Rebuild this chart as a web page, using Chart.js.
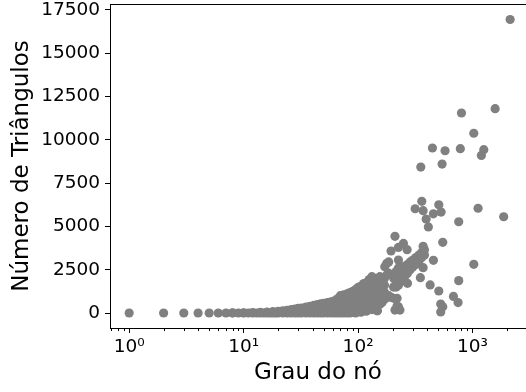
<!DOCTYPE html>
<html lang="pt">
<head>
  <meta charset="UTF-8" />
  <title>Grau x Triângulos</title>
  <script src="https://cdn.jsdelivr.net/npm/chart.js"></script>
  <style>
    html, body { margin: 0; padding: 0; background: #fff; }
    #wrap { width: 526px; height: 392px; }
  </style>
</head>
<body>
  <div id="wrap"><canvas id="grafico"></canvas></div>

  <script>
    // grau de cada nó e número de triângulos (linha a linha)
    const grau = [
      1, 2, 3, 4, 5, 6, 7, 8, 8, 9, 10, 10, 11, 12, 12, 13, 14, 14, 15, 16, 16, 17, 18, 18, 19, 20, 20,
      22, 22, 24, 24, 26, 26, 28, 28, 30, 30,
      32, 32, 32, 35, 35, 35, 38, 38, 38, 41, 41, 41, 44, 44, 44, 47, 47, 47,
      50, 50, 50, 54, 54, 54, 58, 58, 58, 62, 62, 62, 66, 66, 66,
      70, 70, 70, 70, 75, 75, 75, 75, 80, 80, 80, 80, 85, 85, 85, 85,
      90, 90, 90, 90, 95, 95, 95, 95, 95, 100, 100, 100, 100, 100,
      106, 106, 106, 106, 106, 112, 112, 112, 112, 112, 118, 118, 118, 118, 118,
      125, 125, 125, 125, 125, 132, 132, 132, 132, 132, 132, 140, 140, 140, 140, 140,
      147, 147, 147, 147, 147, 155, 155, 155, 155, 155, 162, 162, 162, 162,
      171, 178, 170, 170, 170, 170, 178, 178, 185, 185, 185, 194, 195, 205, 205, 204,
      210, 210, 215, 215, 215, 219, 219, 225, 225, 225, 225, 225, 225,
      235, 235, 235, 232, 249, 249, 249, 260, 260, 270, 268, 270, 270,
      285, 285, 300, 300, 320, 320, 340, 340, 360, 360, 380, 380,
      2130, 1575, 800, 1025, 446, 575, 782, 1253, 1194, 353, 542,
      315, 360, 370, 393, 411, 455, 507, 531, 549, 757, 1117, 1870,
      1025, 370, 455, 370, 350, 426, 507, 757, 681, 747, 527, 549, 527, 147
    ];
    const triangulos = [
      0, 0, 0, 0, 0, 0, 0, 0, 10, 0, 0, 15, 0, 0, 25, 0, 0, 40, 0, 0, 55, 0, 0, 75, 0, 0, 100,
      0, 130, 0, 160, 0, 190, 0, 230, 0, 270,
      0, 150, 290, 0, 170, 340, 0, 200, 390, 0, 220, 440, 0, 250, 480, 0, 270, 530,
      0, 280, 560, 0, 300, 600, 0, 320, 650, 0, 330, 700, 0, 380, 820,
      0, 350, 700, 1000, 0, 400, 750, 1050, 0, 400, 800, 1100, 0, 450, 850, 1180,
      50, 450, 850, 1250, 0, 400, 800, 1200, 1350, 100, 500, 900, 1300, 1480,
      50, 450, 850, 1250, 1550, 200, 600, 1000, 1400, 1700, 100, 500, 900, 1300, 1750,
      300, 700, 1100, 1500, 1930, 200, 600, 1000, 1400, 1950, 2100, 400, 800, 1200, 1600, 2000,
      130, 700, 1100, 1500, 1900, 500, 900, 1300, 1700, 2100, 600, 1000, 1400, 1800,
      2670, 2870, 800, 1200, 1600, 2000, 900, 2200, 1000, 2300, 2950, 3580, 900, 850, 2000, 1500,
      4430, 170, 1500, 1900, 2400, 850, 400, 1600, 2100, 2600, 3790, 3060, 360,
      1800, 2300, 2700, 170, 2000, 2500, 4020, 2200, 2700, 1715, 3655, 2300, 2800,
      2500, 2950, 2650, 3050, 2800, 3200, 3000, 3350, 3200, 3500, 3350, 3650,
      16950, 11800, 11550, 10380, 9530, 9370, 9490, 9430, 9100, 8430, 8600,
      6020, 6450, 5910, 5430, 4970, 5730, 6250, 5830, 4080, 5270, 6050, 5560,
      2810, 3850, 3040, 2620, 2040, 1620, 1270, 1870, 960, 600, 520, 360, 60, 130
    ];

    const ticksY = [0, 2500, 5000, 7500, 10000, 12500, 15000, 17500];
    const decadas = [1, 10, 100, 1000];

    const sup = { "0": "⁰", "1": "¹", "2": "²", "3": "³" };
    const ehDecada = (v) => Math.abs(Math.log10(v) - Math.round(Math.log10(v))) < 1e-9;

    const semPadding = (scale) => {
      scale.paddingLeft = 0;
      scale.paddingRight = 0;
      scale.paddingTop = 0;
      scale.paddingBottom = 0;
    };

    // moldura superior e ticks menores do eixo log
    const moldura = {
      id: "moldura",
      beforeDatasetsDraw(chart) {
        const { ctx, chartArea } = chart;
        const sx = chart.scales.x;
        ctx.save();
        ctx.strokeStyle = "#000";
        ctx.lineWidth = 1;
        ctx.beginPath();
        ctx.moveTo(chartArea.left, chartArea.top + 0.5);
        ctx.lineTo(chartArea.right, chartArea.top + 0.5);
        sx.ticks.forEach((t) => {
          if (ehDecada(t.value)) return;
          const px = Math.round(sx.getPixelForValue(t.value)) + 0.5;
          ctx.moveTo(px, chartArea.bottom);
          ctx.lineTo(px, chartArea.bottom + 3);
        });
        ctx.stroke();
        ctx.restore();
      }
    };

    new Chart(document.getElementById("grafico"), {
      type: "scatter",
      data: {
        datasets: [{
          data: grau.map((g, i) => ({ x: g, y: triangulos[i] })),
          backgroundColor: "#808080",
          borderWidth: 0,
          pointRadius: 4.6,
          pointHoverRadius: 4.6
        }]
      },
      options: {
        responsive: true,
        maintainAspectRatio: false,
        animation: false,
        layout: { autoPadding: false, padding: { top: 4, right: 0, left: 0, bottom: 0 } },
        plugins: { legend: { display: false }, tooltip: { enabled: false } },
        scales: {
          x: {
            type: "logarithmic",
            min: 0.68,
            max: 2930,
            afterBuildTicks: (scale) => {
              const t = [];
              [0.1, 1, 10, 100, 1000].forEach((d) => {
                for (let k = 1; k <= 9; k++) {
                  const v = d * k;
                  if (v >= 0.68 && v <= 2930 && !ehDecada(v)) t.push({ value: v });
                }
              });
              decadas.forEach((d) => t.push({ value: d }));
              scale.ticks = t.sort((a, b) => a.value - b.value);
            },
            afterFit: (scale) => { scale.height = 64; semPadding(scale); },
            ticks: {
              autoSkip: false,
              maxRotation: 0,
              padding: 3,
              color: "#000",
              font: { family: "DejaVu Sans", size: 18.5 },
              callback: (v) => ehDecada(v) ? "10" + sup[String(Math.round(Math.log10(v)))] : ""
            },
            grid: {
              drawOnChartArea: false,
              tickLength: 5,
              tickColor: (ctx) => (ctx.tick && ehDecada(ctx.tick.value)) ? "#000" : "rgba(0,0,0,0)"
            },
            border: { display: true, color: "#000", width: 1 },
            title: {
              display: true,
              text: "Grau do nó",
              color: "#000",
              font: { family: "DejaVu Sans", size: 23 },
              padding: { top: 0, bottom: 5 }
            }
          },
          y: {
            min: -866,
            max: 17846,
            afterBuildTicks: (scale) => {
              scale.ticks = ticksY.map((v) => ({ value: v }));
            },
            afterFit: (scale) => { scale.width = 110; semPadding(scale); },
            ticks: {
              padding: 5,
              color: "#000",
              font: { family: "DejaVu Sans", size: 18.5 },
              callback: (v) => String(v)
            },
            grid: {
              drawOnChartArea: false,
              tickLength: 5,
              tickColor: "#000"
            },
            border: { display: true, color: "#000", width: 1 },
            title: {
              display: true,
              text: "Número de Triângulos",
              color: "#000",
              font: { family: "DejaVu Sans", size: 23 },
              padding: { top: 8, bottom: 0 }
            }
          }
        }
      },
      plugins: [moldura]
    });
  </script>
</body>
</html>
